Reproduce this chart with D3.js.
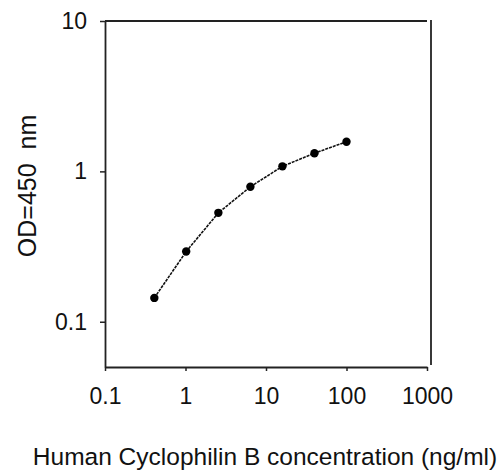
<!DOCTYPE html>
<html>
<head>
<meta charset="utf-8">
<script src="https://cdn.jsdelivr.net/npm/d3@7"></script>
<style>
body { margin: 0; background: #fff; }
text { font-family: Arial, "Liberation Sans", sans-serif; fill: #111; }
</style>
</head>
<body>
<script>
// standard curve, log-log
const conc = [0.41, 1.02, 2.56, 6.4, 16, 40, 100];
const od = [0.144, 0.293, 0.53, 0.79, 1.08, 1.32, 1.575];
const xTicks = [0.1, 1, 10, 100, 1000];
const xTickLabels = ['0.1', '1', '10', '100', '1000'];
const yTicks = [0.1, 1, 10];
const yTickLabels = ['0.1', '1', '10'];

const width = 504;
const height = 470;

const x = d3.scaleLog()
    .domain([0.1, 1000])
    .range([105, 427])
const y = d3.scaleLog()
    .domain([0.05, 10])
    .range([367, 21])

const svg = d3.select('body')
    .append('svg')
    .attr('width', width)
    .attr('height', height)

// bottom axis
const xAxis = svg.append('g')
    .attr('transform', `translate(0,${y(0.05)})`)
    .call(d3.axisBottom(x).tickValues(xTicks).tickSize(4).tickSizeOuter(0)
        .tickFormat((d, i) => xTickLabels[i]))
xAxis.select('.domain').attr('stroke', '#222').attr('stroke-width', 1.8)
xAxis.selectAll('.tick line').attr('stroke', '#222').attr('stroke-width', 1.5)
xAxis.selectAll('.tick text')
    .attr('y', 21)
    .style('font-size', '23px')
    .style('font-family', 'Arial, "Liberation Sans", sans-serif')
    .attr('fill', '#111')

// left axis
const yAxis = svg.append('g')
    .attr('transform', `translate(${x(0.1)},0)`)
    .call(d3.axisLeft(y).tickValues(yTicks).tickSize(5).tickSizeOuter(0)
        .tickFormat((d, i) => yTickLabels[i]))
yAxis.select('.domain').attr('stroke', '#222').attr('stroke-width', 1.8)
yAxis.selectAll('.tick line').attr('stroke', '#222').attr('stroke-width', 1.5)
yAxis.selectAll('.tick text')
    .attr('x', -18)
    .style('font-size', '23px')
    .style('font-family', 'Arial, "Liberation Sans", sans-serif')
    .attr('fill', '#111')

// top and right frame lines
svg.append('line')
    .attr('x1', x(0.1))
    .attr('x2', x(1000))
    .attr('y1', y(10))
    .attr('y2', y(10))
    .attr('stroke', '#222')
    .attr('stroke-width', 1.8)
svg.append('line')
    .attr('x1', x(1000) + 4)
    .attr('x2', x(1000) + 4)
    .attr('y1', y(10) - 1)
    .attr('y2', y(0.05) - 2)
    .attr('stroke', '#222')
    .attr('stroke-width', 1.8)

const pts = conc.map((c, i) => [c, od[i]])

svg.append('path')
    .datum(pts)
    .attr('fill', 'none')
    .attr('stroke', '#111')
    .attr('stroke-width', 1.6)
    .attr('stroke-dasharray', '3,1')
    .attr('d', d3.line().x(d => x(d[0])).y(d => y(d[1])))

svg.selectAll('circle')
    .data(pts)
    .enter()
    .append('circle')
    .attr('cx', d => x(d[0]))
    .attr('cy', d => y(d[1]))
    .attr('r', 4.2)
    .attr('fill', '#000')

// axis titles
svg.append('text')
    .attr('x', 265)
    .attr('y', 465)
    .attr('text-anchor', 'middle')
    .style('font-size', '24.5px')
    .text('Human Cyclophilin B concentration (ng/ml)')

svg.append('text')
    .attr('transform', 'translate(36,186) rotate(-90)')
    .attr('text-anchor', 'middle')
    .style('font-size', '25px')
    .style('white-space', 'pre')
    .text('OD=450  nm')
</script>
</body>
</html>
